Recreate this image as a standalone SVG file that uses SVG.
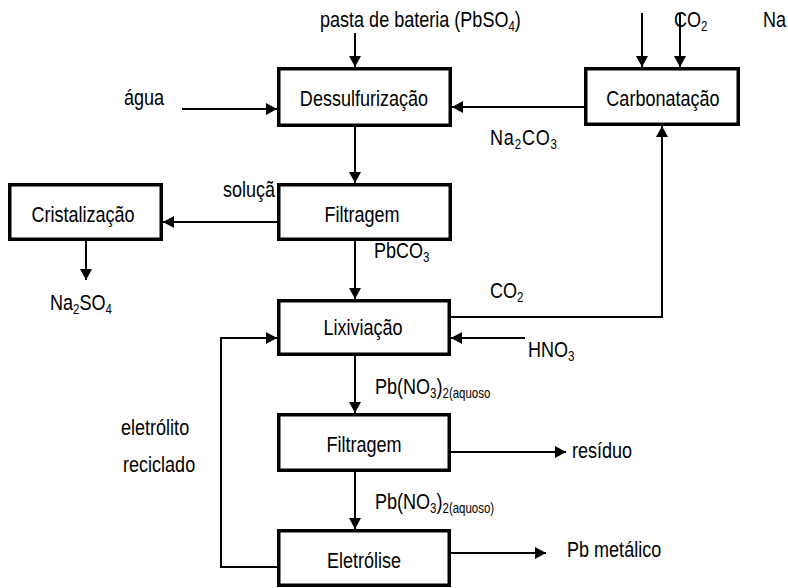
<svg xmlns="http://www.w3.org/2000/svg" width="788" height="588" viewBox="0 0 788 588">
<defs>
<marker id="ah" markerUnits="userSpaceOnUse" markerWidth="12" markerHeight="12" refX="11" refY="6" orient="auto">
<path d="M0,0 L11,6 L0,12 z" fill="#000"/>
</marker>
<style>
.box{fill:#fff;stroke:#000;stroke-width:3.5}
.c{fill:none;stroke:#000;stroke-width:2;marker-end:url(#ah)}
text{font-family:"Liberation Sans",Arial,sans-serif;font-size:22px;fill:#000}
.m{text-anchor:middle}
.s{font-size:14px}
</style>
</defs>
<rect width="788" height="588" fill="#fff"/>
<g id="labels">
<text transform="translate(320,27) scale(0.82,1)">pasta de bateria (PbSO<tspan class="s" dy="4">4</tspan><tspan dy="-4">)</tspan></text>
<text transform="translate(674,27) scale(0.82,1)">CO<tspan class="s" dy="4">2</tspan></text>
<text transform="translate(763,27) scale(0.82,1)">Na</text>
<text transform="translate(124,105) scale(0.82,1)">água</text>
<text transform="translate(490,145) scale(0.82,1)" letter-spacing="1">Na<tspan class="s" dy="4">2</tspan><tspan dy="-4">CO</tspan><tspan class="s" dy="4">3</tspan></text>
<text transform="translate(223,197) scale(0.82,1)">soluçã</text>
<text transform="translate(374,258) scale(0.82,1)">PbCO<tspan class="s" dy="4">3</tspan></text>
<text transform="translate(50,310) scale(0.82,1)">Na<tspan class="s" dy="4">2</tspan><tspan dy="-4">SO</tspan><tspan class="s" dy="4">4</tspan></text>
<text transform="translate(490,298) scale(0.82,1)">CO<tspan class="s" dy="4">2</tspan></text>
<text transform="translate(528,357) scale(0.82,1)">HNO<tspan class="s" dy="4">3</tspan></text>
<text transform="translate(375,394) scale(0.82,1)">Pb(NO<tspan class="s" dy="4">3</tspan><tspan dy="-4">)</tspan><tspan class="s" dy="4">2(aquoso</tspan></text>
<text transform="translate(121,435) scale(0.82,1)">eletrólito</text>
<text transform="translate(123,472) scale(0.82,1)">reciclado</text>
<text transform="translate(572,458) scale(0.82,1)">resíduo</text>
<text transform="translate(375,509) scale(0.82,1)">Pb(NO<tspan class="s" dy="4">3</tspan><tspan dy="-4">)</tspan><tspan class="s" dy="4">2(aquoso)</tspan></text>
<text transform="translate(567,557) scale(0.82,1)">Pb metálico</text>
</g>
<g id="connectors">
<line class="c" x1="355" y1="33" x2="355" y2="67"/>
<line class="c" x1="182" y1="109" x2="277" y2="109"/>
<line class="c" x1="584" y1="107" x2="452" y2="107"/>
<line class="c" x1="642" y1="13" x2="642" y2="67"/>
<line class="c" x1="680" y1="13" x2="680" y2="67"/>
<line class="c" x1="355" y1="127" x2="355" y2="183"/>
<line class="c" x1="277" y1="222" x2="163" y2="222"/>
<line class="c" x1="86" y1="241" x2="86" y2="280"/>
<line class="c" x1="355" y1="241" x2="355" y2="299"/>
<polyline class="c" points="451,317 662,317 662,126"/>
<line class="c" x1="525" y1="338" x2="451" y2="338"/>
<polyline class="c" points="277,567 221,567 221,338 277,338"/>
<line class="c" x1="355" y1="356" x2="355" y2="413"/>
<line class="c" x1="451" y1="452" x2="566" y2="452"/>
<line class="c" x1="355" y1="472" x2="355" y2="529"/>
<line class="c" x1="451" y1="553" x2="546" y2="553"/>
</g>
<g id="dessulfurizacao">
<rect class="box" x="278.75" y="68.75" width="171.5" height="56.5"/>
<text class="m" transform="translate(364,106) scale(0.82,1)">Dessulfurização</text>
</g>
<g id="carbonatacao">
<rect class="box" x="585.75" y="68.75" width="152.5" height="55.5"/>
<text class="m" transform="translate(663,106) scale(0.82,1)">Carbonatação</text>
</g>
<g id="filtragem1">
<rect class="box" x="278.75" y="184.75" width="171.5" height="54.5"/>
<text class="m" transform="translate(362,222) scale(0.82,1)">Filtragem</text>
</g>
<g id="cristalizacao">
<rect class="box" x="9.75" y="184.75" width="151.5" height="54.5"/>
<text class="m" transform="translate(83,222) scale(0.82,1)">Cristalização</text>
</g>
<g id="lixiviacao">
<rect class="box" x="278.75" y="300.75" width="170.5" height="53.5"/>
<text class="m" transform="translate(363,335) scale(0.82,1)">Lixiviação</text>
</g>
<g id="filtragem2">
<rect class="box" x="278.75" y="414.75" width="170.5" height="55.5"/>
<text class="m" transform="translate(364,452) scale(0.82,1)">Filtragem</text>
</g>
<g id="eletrolise">
<rect class="box" x="278.75" y="530.75" width="170.5" height="54.5"/>
<text class="m" transform="translate(364,568) scale(0.82,1)">Eletrólise</text>
</g>
</svg>
